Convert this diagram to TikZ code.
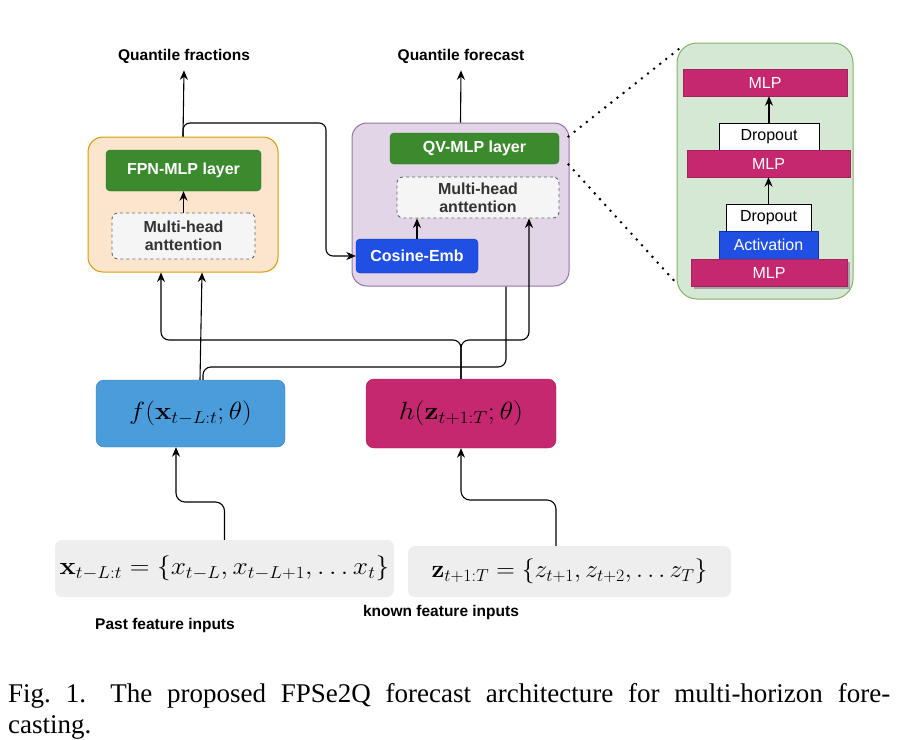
\documentclass[tikz,border=0pt]{standalone}
\usepackage[no-math]{fontspec}
\setmainfont{Liberation Serif}
\newfontfamily\lsans{Liberation Sans}
\usetikzlibrary{arrows.meta,calc,shadows}
\definecolor{orgfill}{HTML}{FBE5CD}
\definecolor{orgline}{HTML}{D79B00}
\definecolor{purpfill}{HTML}{E1D5E7}
\definecolor{purpline}{HTML}{9673A6}
\definecolor{grnfill}{HTML}{3C8A2E}
\definecolor{grnline}{HTML}{2D6E1F}
\definecolor{mhfill}{HTML}{F5F5F5}
\definecolor{mhline}{HTML}{666666}
\definecolor{mhtext}{HTML}{333333}
\definecolor{cosfill}{HTML}{1F4FE3}
\definecolor{cosline}{HTML}{0F2FB0}
\definecolor{ffill}{HTML}{4A9CDB}
\definecolor{fline}{HTML}{3C7DB8}
\definecolor{hfill}{HTML}{C5286E}
\definecolor{hline}{HTML}{A3245B}
\definecolor{gpfill}{HTML}{D5E8D4}
\definecolor{gpline}{HTML}{82B366}
\definecolor{infill}{HTML}{EEEEEE}
\tikzset{
  box/.style={draw, inner sep=0pt, align=center},
  bigbox/.style={box, rounded corners=15pt, line width=1pt},
  layerbox/.style={box, fill=grnfill, draw=grnline, rounded corners=4pt, text=white, font=\lsans\bfseries\fontsize{16}{19}\selectfont},
  mhbox/.style={box, fill=mhfill, draw=mhline, dashed, line width=0.9pt, rounded corners=6pt, text=mhtext, font=\lsans\bfseries\fontsize{16}{18}\selectfont},
  cosbox/.style={box, fill=cosfill, draw=cosline, rounded corners=4pt, text=white, font=\lsans\bfseries\fontsize{16}{19}\selectfont},
  mlpbox/.style={box, fill=hfill, draw=hline, text=white, font=\lsans\fontsize{16}{19}\selectfont},
  dropbox/.style={box, fill=white, draw=black, line width=0.9pt, font=\lsans\fontsize{16}{19}\selectfont},
  actbox/.style={box, fill=cosfill, draw=cosline, text=white, font=\lsans\fontsize{16}{19}\selectfont},
  funcbox/.style={box, rounded corners=8pt},
  inbox/.style={inner sep=0pt, fill=infill, rounded corners=7pt},
  lbl/.style={inner sep=0pt, font=\lsans\bfseries\fontsize{15.5}{18}\selectfont},
  arr/.style={-{Stealth[length=9.5pt,width=8pt]}, line width=1.1pt},
  conn/.style={line width=1.1pt},
  dotline/.style={line width=2.8pt, line cap=round, dash pattern=on 0pt off 7.8pt}
}
\begin{document}
\begin{tikzpicture}[x=1pt,y=-1pt]
\useasboundingbox (0,0) rectangle (902,739);
% big containers
\node[bigbox, fill=orgfill, draw=orgline, minimum width=190pt, minimum height=135pt] (lbox) at (183,204.5) {};
\node[bigbox, fill=purpfill, draw=purpline, minimum width=217pt, minimum height=163pt] (pbox) at (460.5,204.5) {};
\node[bigbox, fill=gpfill, draw=gpline, rounded corners=20pt, minimum width=176pt, minimum height=256pt] (gpanel) at (765,171) {};
% left box content
\node[layerbox, minimum width=155pt, minimum height=41pt] (fpn) at (183.5,170.5) {FPN-MLP layer};
\node[mhbox, minimum width=143pt, minimum height=46pt] (mhl) at (183.5,236) {Multi-head\\anttention};
% purple box content
\node[layerbox, minimum width=169pt, minimum height=31pt] (qv) at (474.5,148.5) {QV-MLP layer};
\node[mhbox, minimum width=162pt, minimum height=41pt] (mhr) at (478,197.5) {Multi-head\\anttention};
\node[cosbox, minimum width=122pt, minimum height=34pt] (cos) at (417,256) {Cosine-Emb};
% green panel content
\node[mlpbox, minimum width=164pt, minimum height=27pt] (mlp1) at (765,82.5) {MLP};
\node[dropbox, minimum width=100pt, minimum height=27pt] (drop1) at (769,136.5) {Dropout};
\node[mlpbox, minimum width=163pt, minimum height=27pt] (mlp2) at (768.5,163.5) {MLP};
\node[dropbox, minimum width=85pt, minimum height=27pt] (drop2) at (768.5,217.5) {Dropout};
\node[actbox, minimum width=99pt, minimum height=28pt] (act) at (768.5,245) {Activation};
\node[mlpbox, minimum width=156pt, minimum height=27pt, drop shadow={shadow xshift=3pt, shadow yshift=-3pt, fill=gray!70, opacity=1}] (mlp3) at (769,272.5) {MLP};
% function boxes
\node[funcbox, fill=ffill, draw=fline, minimum width=189pt, minimum height=67pt] (fbox) at (190.5,413.5) {\fontsize{24}{28}\selectfont\scalebox{1.1}[1]{$f(\mathbf{x}_{t-L:t};\theta)$}};
\node[funcbox, fill=hfill, draw=hline, minimum width=190pt, minimum height=69pt] (hbox) at (461,413.5) {\fontsize{27}{31}\selectfont\scalebox{1.13}[1]{$h(\mathbf{z}_{t+1:T};\theta)$}};
% inputs
\node[inbox, minimum width=339pt, minimum height=57pt] (xin) at (224.5,568.5) {\fontsize{25}{29}\selectfont\scalebox{1.1}[1]{$\mathbf{x}_{t-L:t}=\{x_{t-L},x_{t-L+1},\dots x_t\}$}};
\node[inbox, minimum width=323pt, minimum height=51pt] (zin) at (569.5,571.5) {\fontsize{23}{27}\selectfont\scalebox{1.03}[1]{$\mathbf{z}_{t+1:T}=\{z_{t+1},z_{t+2},\dots z_T\}$}};
% labels
\node[lbl] (qfrac) at (184,56) {Quantile fractions};
\node[lbl] (qfore) at (461,56) {Quantile forecast};
\node[lbl] (past) at (165,625) {Past feature inputs};
\node[lbl] (known) at (441,612) {known feature inputs};
% caption
\node[anchor=base west, inner sep=0pt] (cap1) at (8,702) {\fontsize{27}{31}\selectfont\frenchspacing\makebox[882pt][s]{Fig.~1.\hspace{0.9em}The proposed FPSe2Q forecast architecture for multi-horizon fore-}};
\node[anchor=base west, inner sep=0pt] (cap2) at (8,733) {\fontsize{27}{31}\selectfont casting.};
% coordinates
\coordinate (b1) at (326,123);
\coordinate (jl) at (161,340);
\coordinate (jr) at (529,340);
\coordinate (j2) at (506,367);
\coordinate (jx) at (176,502);
\coordinate (jz) at (461,500);
% connectors top
\draw[arr] (lbox.north) -- ($(qfrac.south)+(0,7)$);
\draw[arr] (pbox.north) -- ($(qfore.south)+(0,7)$);
\draw[arr, rounded corners=7pt] (lbox.north) |- (b1) |- (cos.west);
\draw[arr] (mhl.north) -- (fpn.south);
\draw[arr] (cos.north) -- (cos.north |- mhr.south);
\draw[arr] (drop2.north) -- (drop2.north |- mlp2.south);
\draw[arr] (drop1.north) -- (drop1.north |- mlp1.south);
% dotted zoom lines
\draw[dotline] ($(pbox.north east)+(-1,14)$) -- ($(gpanel.north west)+(3,6)$);
\draw[dotline] ($(pbox.north east)+(-1,42)$) -- ($(gpanel.south west)+(2,-14)$);
% middle connectors
\draw[arr] ($(fbox.north)+(9.5,0)$) -- ($(lbox.south)+(19,0)$);
\draw[conn, rounded corners=8pt] ($(fbox.north)+(12.5,0)$) |- (j2) -- (j2 |- pbox.south);
\draw[arr, rounded corners=8pt] (hbox.north) |- (jl) -- (jl |- lbox.south);
\draw[arr, rounded corners=8pt] (hbox.north) |- (jr) -- (jr |- mhr.south);
% bottom connectors
\draw[arr, rounded corners=9pt] (xin.north) |- (jx) -- (jx |- fbox.south);
\draw[arr, rounded corners=9pt] ($(zin.north)+(-13.5,0)$) |- (jz) -- (jz |- hbox.south);
\end{tikzpicture}
\end{document}
